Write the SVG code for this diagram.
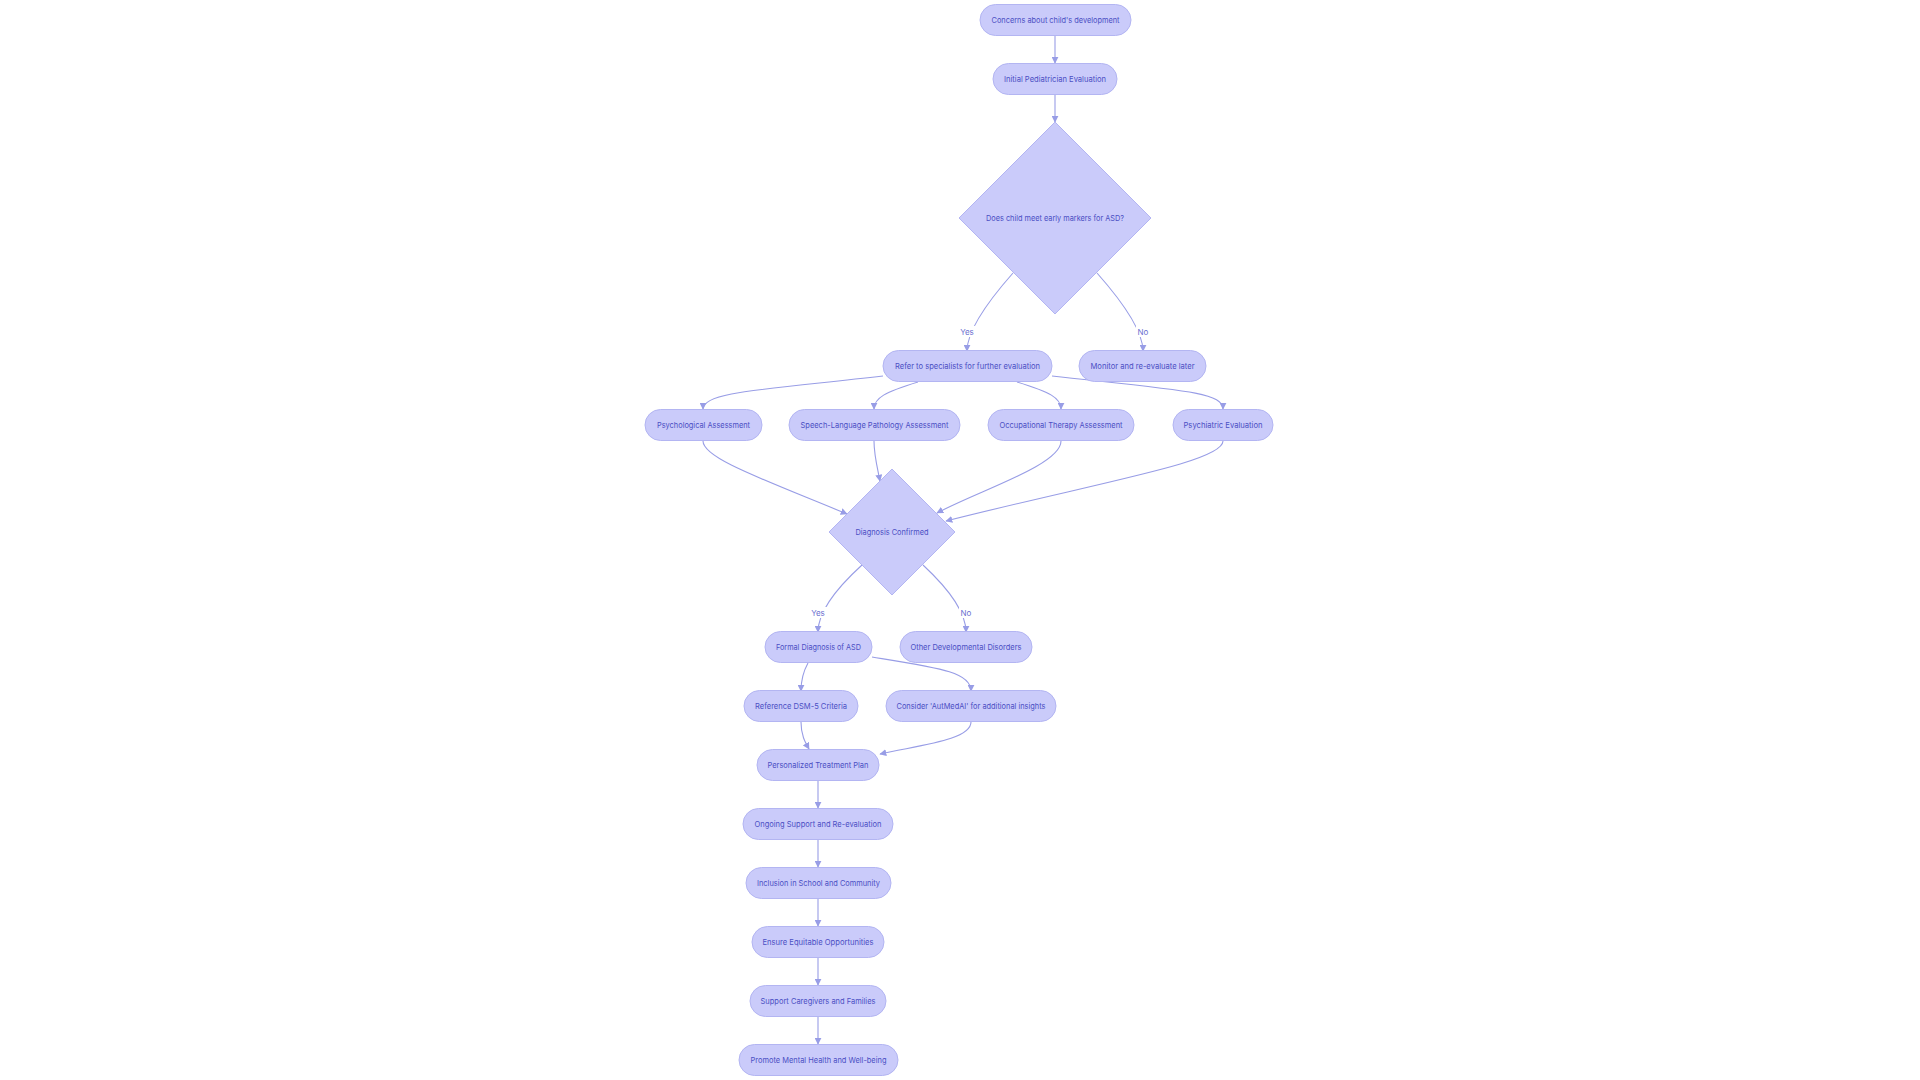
<svg xmlns="http://www.w3.org/2000/svg" width="1920" height="1080" viewBox="0 0 1920 1080">
<defs>
<marker id="arr" viewBox="0 0 10 10" refX="9" refY="5" markerWidth="7" markerHeight="7" markerUnits="userSpaceOnUse" orient="auto">
<path d="M0,0 L10,5 L0,10 z" fill="#989de6"/>
</marker>
</defs>
<style>
.node rect, .node polygon { fill: #cacbfa; stroke: #b3b5f2; stroke-width: 1; }
.node text { font-family: Inter, "Liberation Sans", sans-serif; font-size: 8px; fill: #4b4fc4; text-anchor: middle; }
.edges path { fill: none; stroke: #989de6; stroke-width: 1.1; marker-end: url(#arr); }
.lbl rect { fill: #ffffff; }
.lbl text { font-family: Inter, "Liberation Sans", sans-serif; font-size: 8px; fill: #6b6fd0; text-anchor: middle; }
</style>
<rect width="1920" height="1080" fill="#ffffff"/>
<g id="connectors" class="edges">
<path d="M1055,35 L1055,63"/>
<path d="M1055,94 L1055,122"/>
<path d="M1013,273 Q967,325 967,351"/>
<path d="M1097,273 Q1143,325 1143,351"/>
<path d="M883,376 C760,390 703,392 703,409"/>
<path d="M918,382 C885,392 874,398 874,409"/>
<path d="M1017,382 C1050,392 1061,398 1061,409"/>
<path d="M1052,376 C1180,390 1223,392 1223,409"/>
<path d="M703,441 C703,458 760,478 847,514"/>
<path d="M874,441 C874,455 877,466 880,481"/>
<path d="M1061,441 C1061,465 980,490 937,513"/>
<path d="M1223,441 C1223,462 1100,482 946,521"/>
<path d="M862,565 Q818,605 818,632"/>
<path d="M923,565 Q966,605 966,632"/>
<path d="M808,663 C803,672 801,680 801,691"/>
<path d="M872,657 C940,668 971,672 971,691"/>
<path d="M801,722 C801,735 805,742 809,749"/>
<path d="M971,722 C971,740 920,745 880,754"/>
<path d="M818,781 L818,808"/>
<path d="M818,839 L818,867"/>
<path d="M818,898 L818,926"/>
<path d="M818,957 L818,985"/>
<path d="M818,1016 L818,1044"/>
</g>
<g id="edge-labels">
<g class="lbl"><rect x="958" y="326" width="18" height="11"/><text x="967" y="335">Yes</text></g>
<g class="lbl"><rect x="1136" y="326" width="14" height="11"/><text x="1143" y="335">No</text></g>
<g class="lbl"><rect x="809" y="607" width="18" height="11"/><text x="818" y="616">Yes</text></g>
<g class="lbl"><rect x="959" y="607" width="14" height="11"/><text x="966" y="616">No</text></g>
</g>
<g id="n1" class="node"><rect x="980" y="4.5" width="151" height="31" rx="15.5"/><text x="1055.5" y="23" textLength="128" lengthAdjust="spacingAndGlyphs">Concerns about child's development</text></g>
<g id="n2" class="node"><rect x="993" y="63.5" width="124" height="31" rx="15.5"/><text x="1055" y="82" textLength="102" lengthAdjust="spacingAndGlyphs">Initial Pediatrician Evaluation</text></g>
<g id="d1" class="node"><polygon points="1055,122 1151,218 1055,314 959,218"/><text x="1055" y="221" textLength="138" lengthAdjust="spacingAndGlyphs">Does child meet early markers for ASD?</text></g>
<g id="n3" class="node"><rect x="883" y="350.5" width="169" height="31" rx="15.5"/><text x="967.5" y="369" textLength="145" lengthAdjust="spacingAndGlyphs">Refer to specialists for further evaluation</text></g>
<g id="n4" class="node"><rect x="1079" y="350.5" width="127" height="31" rx="15.5"/><text x="1142.5" y="369" textLength="104" lengthAdjust="spacingAndGlyphs">Monitor and re-evaluate later</text></g>
<g id="n5" class="node"><rect x="645" y="409.5" width="117" height="31" rx="15.5"/><text x="703.5" y="428" textLength="93" lengthAdjust="spacingAndGlyphs">Psychological Assessment</text></g>
<g id="n6" class="node"><rect x="789" y="409.5" width="171" height="31" rx="15.5"/><text x="874.5" y="428" textLength="148" lengthAdjust="spacingAndGlyphs">Speech-Language Pathology Assessment</text></g>
<g id="n7" class="node"><rect x="988" y="409.5" width="146" height="31" rx="15.5"/><text x="1061" y="428" textLength="123" lengthAdjust="spacingAndGlyphs">Occupational Therapy Assessment</text></g>
<g id="n8" class="node"><rect x="1173" y="409.5" width="100" height="31" rx="15.5"/><text x="1223" y="428" textLength="79" lengthAdjust="spacingAndGlyphs">Psychiatric Evaluation</text></g>
<g id="d2" class="node"><polygon points="892,469 955,532 892,595 829,532"/><text x="892" y="535" textLength="73" lengthAdjust="spacingAndGlyphs">Diagnosis Confirmed</text></g>
<g id="n9" class="node"><rect x="765" y="631.5" width="107" height="31" rx="15.5"/><text x="818.5" y="650" textLength="85" lengthAdjust="spacingAndGlyphs">Formal Diagnosis of ASD</text></g>
<g id="n10" class="node"><rect x="900" y="631.5" width="132" height="31" rx="15.5"/><text x="966" y="650" textLength="111" lengthAdjust="spacingAndGlyphs">Other Developmental Disorders</text></g>
<g id="n11" class="node"><rect x="744" y="690.5" width="114" height="31" rx="15.5"/><text x="801" y="709" textLength="92" lengthAdjust="spacingAndGlyphs">Reference DSM-5 Criteria</text></g>
<g id="n12" class="node"><rect x="886" y="690.5" width="170" height="31" rx="15.5"/><text x="971" y="709" textLength="149" lengthAdjust="spacingAndGlyphs">Consider 'AutMedAI' for additional insights</text></g>
<g id="n13" class="node"><rect x="757" y="749.5" width="122" height="31" rx="15.5"/><text x="818" y="768" textLength="101" lengthAdjust="spacingAndGlyphs">Personalized Treatment Plan</text></g>
<g id="n14" class="node"><rect x="743" y="808.5" width="150" height="31" rx="15.5"/><text x="818" y="827" textLength="127" lengthAdjust="spacingAndGlyphs">Ongoing Support and Re-evaluation</text></g>
<g id="n15" class="node"><rect x="746" y="867.5" width="145" height="31" rx="15.5"/><text x="818.5" y="886" textLength="123" lengthAdjust="spacingAndGlyphs">Inclusion in School and Community</text></g>
<g id="n16" class="node"><rect x="752" y="926.5" width="132" height="31" rx="15.5"/><text x="818" y="945" textLength="111" lengthAdjust="spacingAndGlyphs">Ensure Equitable Opportunities</text></g>
<g id="n17" class="node"><rect x="750" y="985.5" width="136" height="31" rx="15.5"/><text x="818" y="1004" textLength="115" lengthAdjust="spacingAndGlyphs">Support Caregivers and Families</text></g>
<g id="n18" class="node"><rect x="739" y="1044.5" width="159" height="31" rx="15.5"/><text x="818.5" y="1063" textLength="136" lengthAdjust="spacingAndGlyphs">Promote Mental Health and Well-being</text></g>
</svg>
